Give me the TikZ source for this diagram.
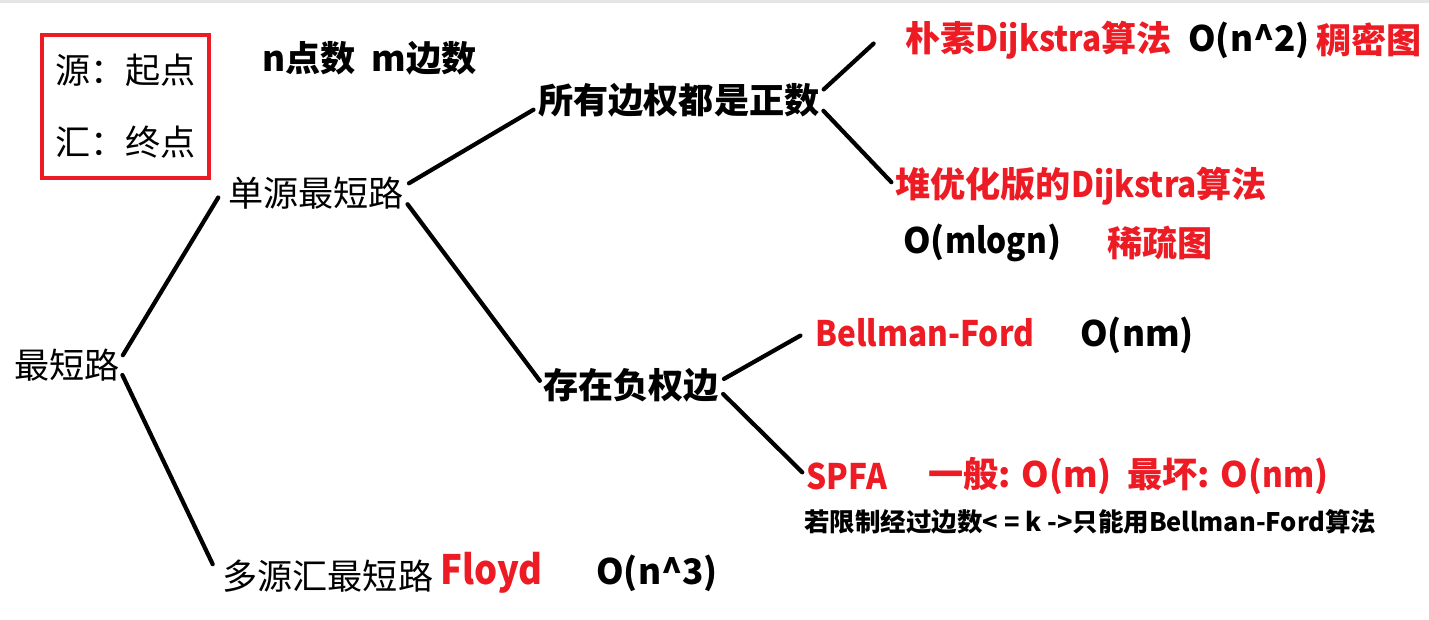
\documentclass[tikz,border=0pt]{standalone}
\usepackage{fontspec}
\setmainfont{Noto Sans CJK SC}
\newfontfamily\estreita[FakeStretch=0.9]{Noto Sans CJK SC}
\usetikzlibrary{positioning}
\definecolor{vermelhoref}{RGB}{237,28,36}

\begin{document}
\begin{tikzpicture}[
	x=0.02cm, y=-0.02cm,
	font=\fontsize{20}{24}\selectfont,
	ramo/.style={line width=2.4pt, line cap=round, shorten <=3pt, shorten >=3pt},
	termo/.style={inner sep=0pt, anchor=west},
	negrito/.style={termo, font=\fontsize{20}{24}\selectfont\bfseries},
	algo/.style={negrito, text=vermelhoref},
]
\useasboundingbox (0,0) rectangle (1429,619);
\fill[black!10] (0,0) rectangle (1429,3);

\node[draw=vermelhoref, line width=2.2pt, minimum width=3.34cm, minimum height=2.86cm, align=center] (legenda) at (125.5,106.5) {源：起点\\[0.6cm]汇：终点};
\node[negrito] (medidas) at (262,58) {n点数\ \ m边数};

\node[termo] (raiz) at (14,365) {最短路};
\node[termo] (unica) at (228,193) {单源最短路};
\node[termo] (multi) at (222,576) {多源汇最短路};
\node[algo, font=\fontsize{23}{28}\selectfont\bfseries\estreita] (floyd) at (440,573) {Floyd};
\node[negrito] (cfloyd) at (596,573) {O(n\textasciicircum 3)};

\node[negrito] (pos) at (538,100) {所有边权都是正数};
\node[negrito] (neg) at (543,385) {存在负权边};

\node[algo] (ingenuo) at (905,40) {朴素{\estreita Dijkstra}算法};
\node[negrito] (cingenuo) at (1188,40) {O(n\textasciicircum 2)};
\node[algo] (denso) at (1316,40) {稠密图};
\node[algo] (heap) at (895,186) {堆优化版的{\estreita Dijkstra}算法};
\node[negrito] (cheap) at (903,243) {O({\estreita mlogn})};
\node[algo] (esparso) at (1107,243) {稀疏图};

\node[algo] (bf) at (815,333) {\estreita Bellman-Ford};
\node[negrito] (cbf) at (1080,335) {O(nm)};
\node[algo] (spfa) at (806,476) {\estreita SPFA};
\node[algo] (geral) at (928,476) {一般: O(m)};
\node[algo] (pior) at (1127,476) {最坏: O({\estreita nm})};
\node[negrito, font=\fontsize{14.5}{17}\selectfont\bfseries] (nota) at (804,522) {若限制经过边数< = k ->只能用Bellman-Ford算法};

\draw[ramo] ([yshift=3pt]raiz.east) -- ([xshift=-4pt]unica.west);
\draw[ramo] ([yshift=-3pt]raiz.east) -- ([xshift=-4pt,yshift=4pt]multi.west);
\draw[ramo] ([yshift=4pt]unica.east) -- ([yshift=-4pt]pos.west);
\draw[ramo] ([yshift=-4pt]unica.east) -- (neg.west);
\draw[ramo] ([yshift=4pt]pos.east) -- ([xshift=-0.55cm]ingenuo.west);
\draw[ramo] ([yshift=-4pt]pos.east) -- (heap.west);
\draw[ramo] ([yshift=2pt]neg.east) -- ([xshift=-0.2cm]bf.west);
\draw[ramo] ([yshift=-3pt]neg.east) -- (spfa.west);
\end{tikzpicture}
\end{document}
